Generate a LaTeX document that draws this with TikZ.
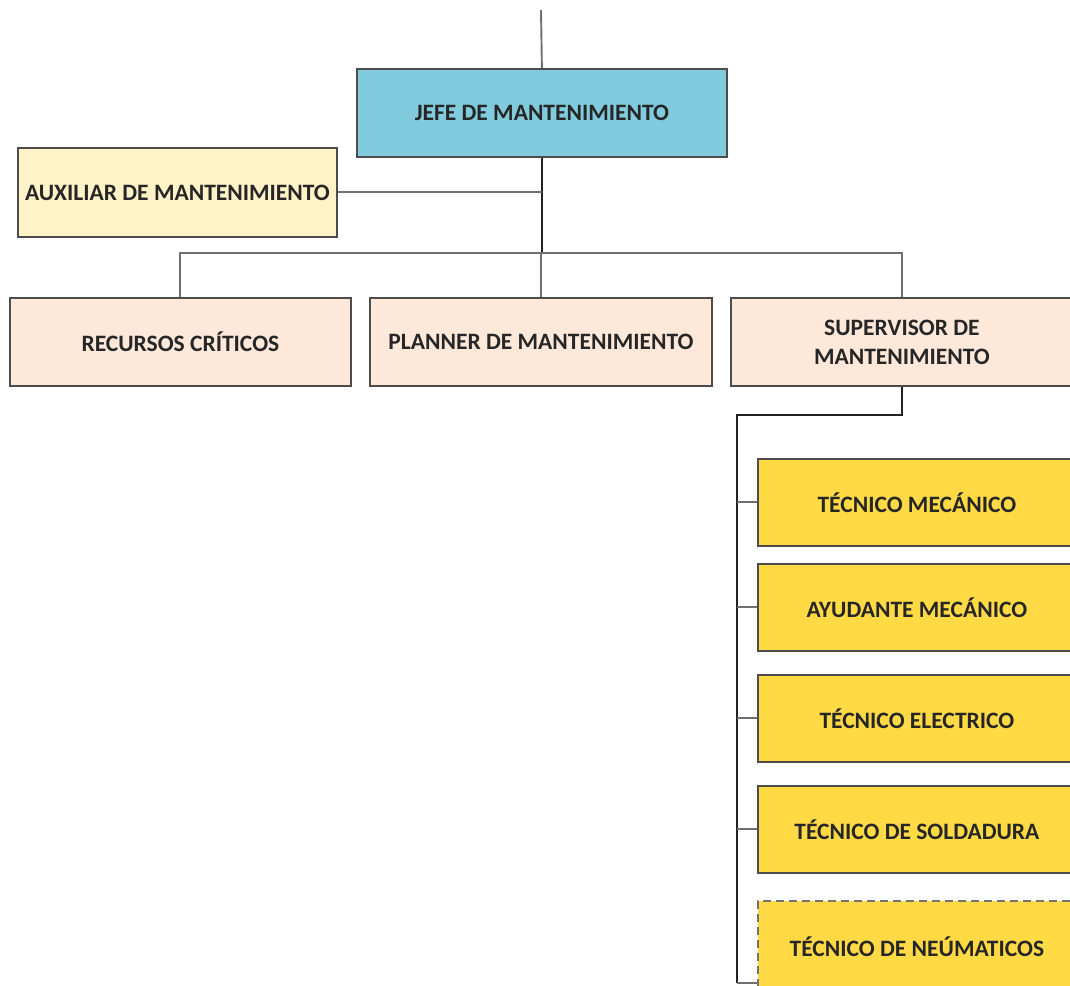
\documentclass[tikz,border=0pt]{standalone}
\usepackage{fontspec}
\setmainfont{Carlito}
\definecolor{jefec}{HTML}{80CBDD}
\definecolor{auxc}{HTML}{FFF2C6}
\definecolor{rowc}{HTML}{FDE8DA}
\definecolor{yelc}{HTML}{FFDA45}
\definecolor{linec}{HTML}{707070}
\definecolor{darkc}{HTML}{222222}
\begin{document}
\begin{tikzpicture}[x=1pt,y=-1pt,
  box/.style={draw=black!70, line width=1.8pt, inner sep=0pt, anchor=north west, align=center,
    font=\bfseries\fontsize{23.5}{29}\selectfont, text=black!85},
  grayline/.style={draw=linec, line width=1.9pt},
  darkline/.style={draw=darkc, line width=2.6pt}]
\useasboundingbox (0,0) rectangle (1070,985);
\clip (0,0) rectangle (1070,985);
\node[box, fill=jefec, minimum width=370pt, minimum height=88pt] (jefe) at (356,68) {JEFE DE MANTENIMIENTO};
\node[box, fill=auxc, minimum width=319pt, minimum height=89pt] (aux) at (17,147) {AUXILIAR DE MANTENIMIENTO};
\node[box, fill=rowc, minimum width=341pt, minimum height=88pt] (rec) at (9,297) {RECURSOS CRÍTICOS};
\node[box, fill=rowc, minimum width=342pt, minimum height=88pt] (plan) at (369,297) {PLANNER DE MANTENIMIENTO};
\node[box, fill=rowc, minimum width=342pt, minimum height=88pt] (sup) at (730,297) {SUPERVISOR DE\\MANTENIMIENTO};
\node[box, fill=yelc, minimum width=318pt, minimum height=87pt] (mec) at (757,458) {TÉCNICO MECÁNICO};
\node[box, fill=yelc, minimum width=318pt, minimum height=87pt] (ayu) at (757,563) {AYUDANTE MECÁNICO};
\node[box, fill=yelc, minimum width=318pt, minimum height=87pt] (ele) at (757,674) {TÉCNICO ELECTRICO};
\node[box, fill=yelc, minimum width=318pt, minimum height=87pt] (sol) at (757,785) {TÉCNICO DE SOLDADURA};
\node[box, fill=yelc, draw=black!55, dash pattern=on 8pt off 5pt, minimum width=318pt, minimum height=92pt] (neu) at (757,900) {TÉCNICO DE NEÚMATICOS};
\coordinate (top) at (541,10);
\coordinate (bus) at (541,253);
\coordinate (rail) at (737,415);
\coordinate (railend) at (737,983);
\draw[grayline] (top) -- (jefe.north);
\draw[darkline] (jefe.south) -- (jefe.south |- bus);
\draw[grayline] (aux.east) -- (aux.east -| jefe.south);
\draw[grayline] (rec.north) |- (bus) -| (sup.north);
\draw[grayline] (plan.north) -- (plan.north |- bus);
\draw[darkline] (sup.south) |- (rail) -- (railend);
\draw[grayline] (mec.west) -- (mec.west -| rail);
\draw[grayline] (ayu.west) -- (ayu.west -| rail);
\draw[grayline] (ele.west) -- (ele.west -| rail);
\draw[grayline] (sol.west) -- (sol.west -| rail);
\draw[grayline] (railend) -- (railend -| neu.west);
\end{tikzpicture}
\end{document}
